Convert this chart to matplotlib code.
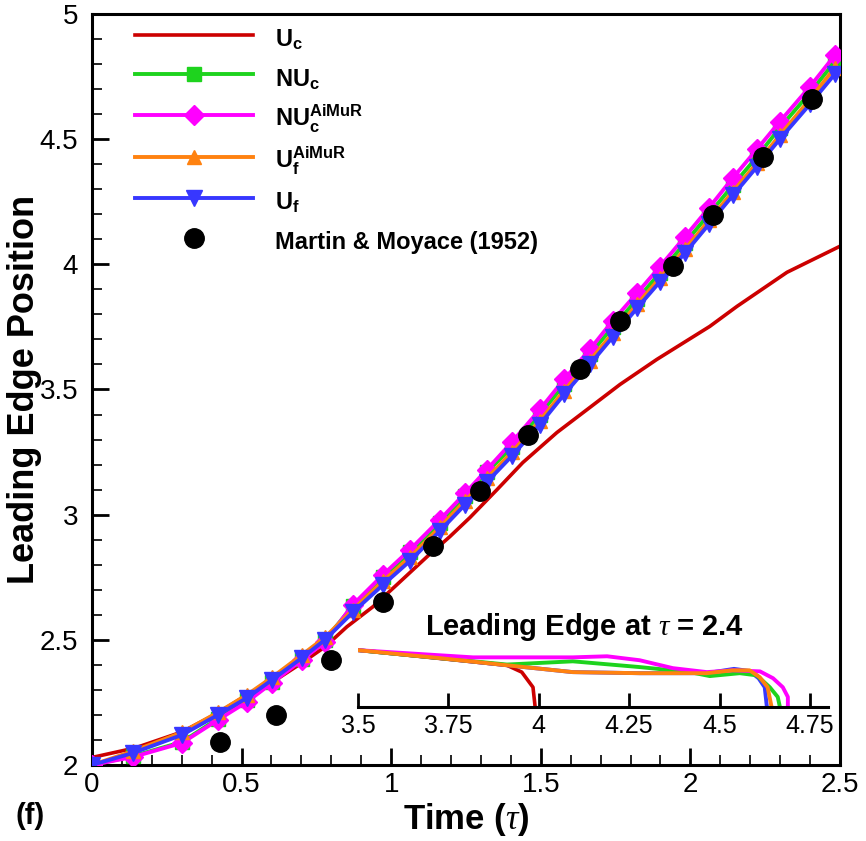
import matplotlib
matplotlib.use("Agg")
import matplotlib.pyplot as plt
from matplotlib.ticker import MultipleLocator, FuncFormatter

plt.rcParams['font.family'] = ['Liberation Sans', 'DejaVu Sans']
plt.rcParams['mathtext.fontset'] = 'custom'
plt.rcParams['mathtext.rm'] = 'Liberation Sans'
plt.rcParams['mathtext.bf'] = 'Liberation Sans:bold'
plt.rcParams['mathtext.it'] = 'Liberation Serif:italic'

# --- data ---
# sample times shared by the simulated runs with symbols
t_sim = [0.0, 0.137, 0.301, 0.421, 0.518, 0.602, 0.702, 0.779, 0.872, 0.973,
         1.063, 1.163, 1.247, 1.320, 1.404, 1.497, 1.578, 1.664, 1.741, 1.822,
         1.898, 1.982, 2.062, 2.142, 2.223, 2.299, 2.400, 2.483]
nuc = [2.0, 2.035, 2.092, 2.185, 2.258, 2.332, 2.425, 2.50, 2.635, 2.75,
       2.85, 2.965, 3.075, 3.17, 3.27, 3.40, 3.52, 3.64, 3.75, 3.86,
       3.965, 4.085, 4.20, 4.315, 4.43, 4.545, 4.685, 4.81]
nuc_aimur = [2.0, 2.032, 2.088, 2.18, 2.252, 2.328, 2.42, 2.492, 2.64, 2.76,
             2.86, 2.98, 3.085, 3.18, 3.29, 3.42, 3.54, 3.66, 3.775, 3.885,
             3.99, 4.11, 4.225, 4.345, 4.46, 4.57, 4.71, 4.835]
uf_aimur = [2.0, 2.055, 2.13, 2.21, 2.28, 2.35, 2.44, 2.51, 2.62, 2.735,
            2.83, 2.95, 3.055, 3.145, 3.25, 3.375, 3.495, 3.615, 3.725, 3.84,
            3.945, 4.06, 4.175, 4.29, 4.405, 4.515, 4.66, 4.785]
uf = [2.0, 2.048, 2.12, 2.20, 2.268, 2.34, 2.428, 2.50, 2.61, 2.72,
      2.815, 2.935, 3.04, 3.13, 3.235, 3.36, 3.48, 3.60, 3.71, 3.825,
      3.93, 4.045, 4.16, 4.275, 4.39, 4.50, 4.64, 4.76]

t_uc = [0.0, 0.144, 0.301, 0.421, 0.518, 0.602, 0.702, 0.779, 0.852, 0.939,
        1.019, 1.120, 1.196, 1.263, 1.354, 1.440, 1.554, 1.664, 1.765, 1.888,
        2.065, 2.156, 2.323, 2.5]
uc = [2.03, 2.068, 2.132, 2.208, 2.28, 2.33, 2.408, 2.472, 2.552, 2.632,
      2.72, 2.832, 2.912, 2.988, 3.10, 3.208, 3.328, 3.428, 3.52, 3.62,
      3.752, 3.832, 3.968, 4.072]

t_exp = [0.428, 0.615, 0.799, 0.973, 1.140, 1.297, 1.457, 1.631, 1.765,
         1.942, 2.075, 2.243, 2.406]
z_exp = [2.092, 2.20, 2.42, 2.652, 2.876, 3.096, 3.32, 3.58, 3.772,
         3.992, 4.196, 4.428, 4.66]

# inset: free-surface profile near the front at tau = 2.4
xi_uc = [3.5, 3.912, 3.953, 3.984, 3.99]
hi_uc = [0.158, 0.116, 0.097, 0.055, 0.0]
xi_nuc = [3.5, 3.725, 3.912, 4.094, 4.279, 4.418, 4.473, 4.556, 4.603, 4.639, 4.661, 4.667]
hi_nuc = [0.158, 0.136, 0.118, 0.127, 0.111, 0.097, 0.086, 0.094, 0.088, 0.055, 0.028, 0.0]
xi_nuca = [3.5, 3.818, 4.094, 4.189, 4.279, 4.371, 4.465, 4.537, 4.612, 4.648, 4.675, 4.689, 4.689]
hi_nuca = [0.158, 0.138, 0.138, 0.141, 0.130, 0.108, 0.097, 0.102, 0.099, 0.080, 0.055, 0.028, 0.0]
xi_ufa = [3.5, 3.725, 3.912, 4.094, 4.279, 4.464, 4.536, 4.583, 4.611, 4.633, 4.644]
hi_ufa = [0.158, 0.136, 0.116, 0.097, 0.094, 0.094, 0.102, 0.102, 0.083, 0.055, 0.0]
xi_uf = [3.5, 3.725, 3.912, 4.094, 4.279, 4.464, 4.54, 4.583, 4.608, 4.625, 4.631]
hi_uf = [0.158, 0.136, 0.116, 0.097, 0.094, 0.094, 0.106, 0.100, 0.080, 0.055, 0.0]

c_red = '#cc0000'
c_green = '#1ed31e'
c_mag = '#ff00ff'
c_orange = '#ff8210'
c_blue = '#3737ff'

fig = plt.figure(figsize=(8.66, 8.41), dpi=100)
ax = fig.add_axes([0.1062, 0.0904, 0.8637, 0.893])

ax.plot(t_uc, uc, color=c_red, lw=2.6, label=r'$\mathbf{U_c}$', zorder=2)
ax.plot(t_sim, nuc, color=c_green, lw=2.8, marker='s', ms=10,
        label=r'$\mathbf{NU_c}$', zorder=3)
ax.plot(t_sim, nuc_aimur, color=c_mag, lw=2.8, marker='D', ms=10.5,
        label=r'$\mathbf{NU_c^{AiMuR}}$', zorder=4)
ax.plot(t_sim, uf_aimur, color=c_orange, lw=2.8, marker='^', ms=10,
        label=r'$\mathbf{U_f^{AiMuR}}$', zorder=5)
ax.plot(t_sim, uf, color=c_blue, lw=2.8, marker='v', ms=12,
        label=r'$\mathbf{U_f}$', zorder=6)
ax.plot(t_exp, z_exp, 'o', color='black', ms=14,
        label='Martin & Moyace (1952)', zorder=7)

ax.set_xlim(0, 2.5)
ax.set_ylim(2, 5)
ax.xaxis.set_major_locator(MultipleLocator(0.5))
ax.xaxis.set_minor_locator(MultipleLocator(0.1))
ax.yaxis.set_major_locator(MultipleLocator(0.5))
ax.yaxis.set_minor_locator(MultipleLocator(0.1))
fmt = FuncFormatter(lambda v, p: '%g' % v)
ax.xaxis.set_major_formatter(fmt)
ax.yaxis.set_major_formatter(fmt)
ax.tick_params(which='both', direction='in', top=False, right=False)
ax.tick_params(which='major', length=12, width=2, labelsize=20)
ax.tick_params(axis='x', which='major', pad=5)
ax.tick_params(axis='y', which='major', pad=10)
ax.tick_params(which='minor', length=7, width=1.2)
for s in ax.spines.values():
    s.set_linewidth(2.2)

ax.set_xlabel(r'Time ($\tau$)', fontsize=25, fontweight='bold', labelpad=2)
ax.set_ylabel('Leading Edge Position', fontsize=26, fontweight='bold', labelpad=-2)
fig.text(0.035, 0.030, '(f)', fontsize=21, fontweight='bold', ha='center', va='center')

ax.legend(loc='upper left', bbox_to_anchor=(0.0575, 0.987), frameon=False,
          handlelength=5.0, handleheight=1.55, handletextpad=0.95,
          labelspacing=0.42, borderpad=0, borderaxespad=0, numpoints=1,
          prop={'weight': 'bold', 'size': 17})

# inset
ax2 = fig.add_axes([0.4134, 0.1593, 0.5427, 0.0856])
ax2.patch.set_alpha(0)
ax2.plot(xi_uc, hi_uc, color=c_red, lw=2.6)
ax2.plot(xi_uf, hi_uf, color=c_blue, lw=2.8)
ax2.plot(xi_nuc, hi_nuc, color=c_green, lw=2.8)
ax2.plot(xi_nuca, hi_nuca, color=c_mag, lw=2.8)
ax2.plot(xi_ufa, hi_ufa, color=c_orange, lw=2.8)
ax2.set_xlim(3.5, 4.8)
ax2.set_ylim(0, 0.2)
for k in ('left', 'right', 'top'):
    ax2.spines[k].set_visible(False)
ax2.spines['bottom'].set_linewidth(2.2)
ax2.set_yticks([])
ax2.set_xticks([3.5, 3.75, 4.0, 4.25, 4.5, 4.75])
ax2.xaxis.set_major_formatter(fmt)
ax2.tick_params(axis='x', direction='in', length=10, width=2, labelsize=18, pad=5)
fig.text(0.6755, 0.2545, r'Leading Edge at $\tau$ = 2.4', fontsize=21,
         fontweight='bold', ha='center', va='center')

fig.savefig('out.png', dpi=100)
